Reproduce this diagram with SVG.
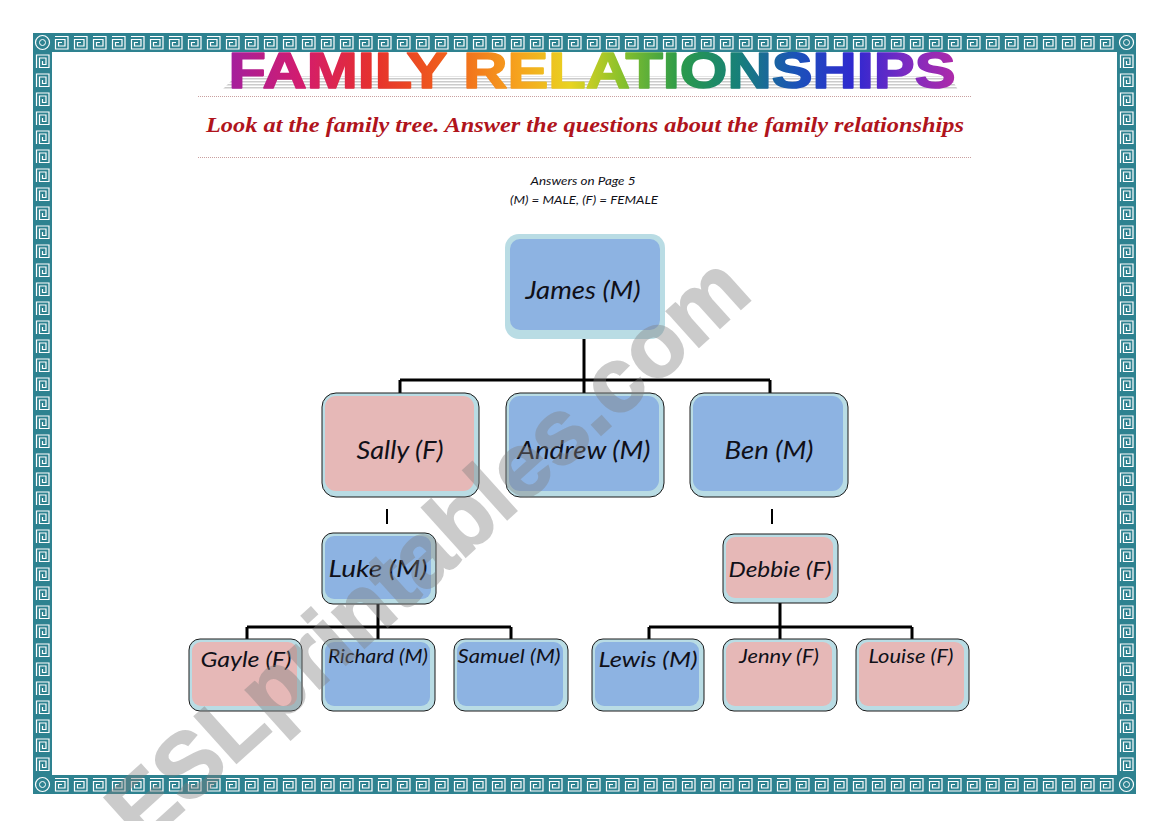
<svg xmlns="http://www.w3.org/2000/svg" width="1169" height="821" viewBox="0 0 1169 821">
<style>
.lbl{font-family:Lato,"Open Sans","Noto Sans",sans-serif;font-style:italic;fill:#101018;text-anchor:middle}
.conn{stroke:#000;stroke-width:3;fill:none}
.tick{stroke:#000;stroke-width:2}
.outer{fill:#b9dce4}
.outerK{fill:#b9dce4;stroke:#1a1a1a;stroke-width:1}
.blue{fill:#8db3e2}
.pink{fill:#e6b8b7}
.dots{stroke:#c9a0a0;stroke-width:1;stroke-dasharray:1 1}
</style>
<defs>
<pattern id="keyH" patternUnits="userSpaceOnUse" width="19" height="19">
<rect width="19" height="19" fill="#2e8290"/>
<path d="M3 3.5H16V16H3.5V6.5H13V13H6.5V9.5H10" fill="none" stroke="#fff" stroke-width="1.2"/>
</pattern>
<pattern id="keyV" patternUnits="userSpaceOnUse" width="19" height="19">
<rect width="19" height="19" fill="#2e8290"/>
<path d="M3.5 16V3H16V15.5H6.5V6H13V12.5H9.5V9" fill="none" stroke="#fff" stroke-width="1.2"/>
</pattern>
<symbol id="corner" viewBox="0 0 19 19">
<rect width="19" height="19" fill="#2e8290"/>
<circle cx="9.5" cy="9.5" r="7" fill="none" stroke="#fff" stroke-width="1.2"/>
<circle cx="9.5" cy="9.5" r="3" fill="none" stroke="#fff" stroke-width="1"/>
</symbol>
<linearGradient id="rainbow" x1="228" y1="0" x2="957" y2="0" gradientUnits="userSpaceOnUse">
<stop offset="0" stop-color="#a3209e"/>
<stop offset="0.1" stop-color="#d31c6e"/>
<stop offset="0.2" stop-color="#e6312c"/>
<stop offset="0.3" stop-color="#f0601c"/>
<stop offset="0.4" stop-color="#f6a51e"/>
<stop offset="0.47" stop-color="#e8d420"/>
<stop offset="0.54" stop-color="#88c12c"/>
<stop offset="0.62" stop-color="#2a9a4a"/>
<stop offset="0.7" stop-color="#178079"/>
<stop offset="0.78" stop-color="#1b52b9"/>
<stop offset="0.86" stop-color="#3028d0"/>
<stop offset="0.93" stop-color="#7b2bc2"/>
<stop offset="1" stop-color="#b02aa8"/>
</linearGradient>
<pattern id="hatch" patternUnits="userSpaceOnUse" width="6" height="3">
<rect width="6" height="1.5" fill="#b5b5b5"/>
</pattern>
</defs>
<rect width="1169" height="821" fill="#fff"/>

<!-- border -->
<g id="border">
<g transform="translate(52,33)"><rect width="1065" height="19" fill="url(#keyH)"/></g>
<g transform="translate(52,775)"><rect width="1065" height="19" fill="url(#keyH)"/></g>
<g transform="translate(33,52)"><rect width="19" height="723" fill="url(#keyV)"/></g>
<g transform="translate(1117,52)"><rect width="19" height="723" fill="url(#keyV)"/></g>
<use href="#corner" x="33" y="33" width="19" height="19"/>
<use href="#corner" x="1117" y="33" width="19" height="19"/>
<use href="#corner" x="33" y="775" width="19" height="19"/>
<use href="#corner" x="1117" y="775" width="19" height="19"/>
</g>

<!-- header -->
<g id="header">
<path d="M222 90 L236 76 H950 L958 90 Z" fill="url(#hatch)" opacity="0.7"/>
<text x="592" y="88" font-family="'Liberation Sans',Arial,sans-serif" font-weight="bold" font-size="50" text-anchor="middle" textLength="727" lengthAdjust="spacingAndGlyphs" fill="url(#rainbow)" stroke="url(#rainbow)" stroke-width="1.6" stroke-linejoin="round">FAMILY RELATIONSHIPS</text>
<line x1="198" y1="96.5" x2="971" y2="96.5" class="dots"/>
<text x="585" y="132" font-family="'Liberation Serif','DejaVu Serif',serif" font-weight="bold" font-style="italic" font-size="21" fill="#b0141c" text-anchor="middle" textLength="758" lengthAdjust="spacingAndGlyphs">Look at the family tree.  Answer the questions about the family relationships</text>
<line x1="198" y1="157.5" x2="971" y2="157.5" class="dots"/>
<text x="583" y="185" class="lbl" font-size="12" textLength="105" lengthAdjust="spacingAndGlyphs">Answers on Page 5</text>
<text x="584" y="204" class="lbl" font-size="12" textLength="148" lengthAdjust="spacingAndGlyphs">(M) = MALE, (F) = FEMALE</text>
</g>

<!-- connectors -->
<g id="connectors">
<path class="conn" d="M584 338V380M400 380H770M400 380V393M584 380V393M770 380V393"/>
<line class="tick" x1="387" y1="509" x2="387" y2="524"/>
<line class="tick" x1="772" y1="509" x2="772" y2="524"/>
<path class="conn" d="M378 604V627M247 627H511M247 627V639M378 627V639M511 627V639"/>
<path class="conn" d="M780 603V627M649 627H912M649 627V639M780 627V639M912 627V639"/>
</g>

<!-- nodes -->
<g id="james">
<rect class="outer" x="505" y="234" width="160" height="105" rx="14"/>
<rect class="blue" x="510" y="239" width="150" height="91" rx="10"/>
<text class="lbl" x="583" y="299" font-size="25" textLength="115" lengthAdjust="spacingAndGlyphs">James (M)</text>
</g>
<g id="sally">
<rect class="outerK" x="322" y="393" width="157" height="104" rx="14"/>
<rect class="pink" x="325" y="396" width="149" height="95" rx="11"/>
<text class="lbl" x="400" y="459" font-size="25" textLength="87" lengthAdjust="spacingAndGlyphs">Sally (F)</text>
</g>
<g id="andrew">
<rect class="outerK" x="506" y="393" width="158" height="104" rx="14"/>
<rect class="blue" x="509" y="396" width="150" height="95" rx="11"/>
<text class="lbl" x="584" y="459" font-size="25" textLength="133" lengthAdjust="spacingAndGlyphs">Andrew (M)</text>
</g>
<g id="ben">
<rect class="outerK" x="690" y="393" width="158" height="104" rx="14"/>
<rect class="blue" x="693" y="396" width="150" height="95" rx="11"/>
<text class="lbl" x="769" y="459" font-size="25" textLength="89" lengthAdjust="spacingAndGlyphs">Ben (M)</text>
</g>
<g id="luke">
<rect class="outerK" x="322" y="533" width="114" height="71" rx="11"/>
<rect class="blue" x="325" y="536" width="106" height="63" rx="9"/>
<text class="lbl" x="378" y="577" font-size="24" textLength="99" lengthAdjust="spacingAndGlyphs">Luke (M)</text>
</g>
<g id="debbie">
<rect class="outerK" x="723" y="534" width="115" height="69" rx="11"/>
<rect class="pink" x="726" y="537" width="107" height="61" rx="9"/>
<text class="lbl" x="780" y="577" font-size="22" textLength="103" lengthAdjust="spacingAndGlyphs">Debbie (F)</text>
</g>
<g id="gayle">
<rect class="outerK" x="189" y="639" width="113" height="72" rx="11"/>
<rect class="pink" x="192" y="642" width="105" height="64" rx="9"/>
<text class="lbl" x="246" y="667" font-size="22" textLength="91" lengthAdjust="spacingAndGlyphs">Gayle (F)</text>
</g>
<g id="richard">
<rect class="outerK" x="322" y="639" width="113" height="72" rx="11"/>
<rect class="blue" x="325" y="642" width="105" height="64" rx="9"/>
<text class="lbl" x="378" y="663" font-size="19" textLength="100" lengthAdjust="spacingAndGlyphs">Richard (M)</text>
</g>
<g id="samuel">
<rect class="outerK" x="454" y="639" width="114" height="72" rx="11"/>
<rect class="blue" x="457" y="642" width="106" height="64" rx="9"/>
<text class="lbl" x="509" y="663" font-size="19" textLength="103" lengthAdjust="spacingAndGlyphs">Samuel (M)</text>
</g>
<g id="lewis">
<rect class="outerK" x="592" y="639" width="112" height="72" rx="11"/>
<rect class="blue" x="595" y="642" width="104" height="64" rx="9"/>
<text class="lbl" x="648" y="667" font-size="22" textLength="99" lengthAdjust="spacingAndGlyphs">Lewis (M)</text>
</g>
<g id="jenny">
<rect class="outerK" x="723" y="639" width="114" height="72" rx="11"/>
<rect class="pink" x="726" y="642" width="106" height="64" rx="9"/>
<text class="lbl" x="779" y="663" font-size="19" textLength="80" lengthAdjust="spacingAndGlyphs">Jenny (F)</text>
</g>
<g id="louise">
<rect class="outerK" x="856" y="639" width="113" height="72" rx="11"/>
<rect class="pink" x="859" y="642" width="105" height="64" rx="9"/>
<text class="lbl" x="911" y="663" font-size="19" textLength="85" lengthAdjust="spacingAndGlyphs">Louise (F)</text>
</g>

<!-- watermark -->
<g id="watermark" transform="translate(426,548) rotate(-42)">
<text x="0" y="33" font-family="'Liberation Sans',Arial,sans-serif" font-weight="bold" font-size="91" text-anchor="middle" fill="#808080" opacity="0.4" stroke="#808080" stroke-width="2">ESLprintables.com</text>
</g>
</svg>
